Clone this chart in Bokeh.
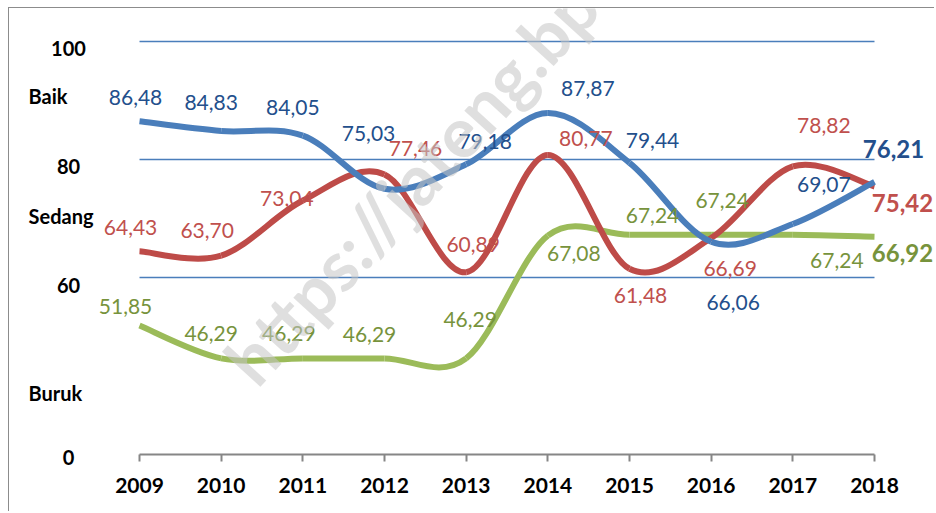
from bokeh.plotting import figure
from bokeh.models import Range1d, FixedTicker, ColumnDataSource, Label
from bokeh.core.properties import value
from bokeh.embed import file_html
from bokeh.resources import INLINE

# ---- data ----
years = [2009, 2010, 2011, 2012, 2013, 2014, 2015, 2016, 2017, 2018]
series_a = [86.48, 84.83, 84.05, 75.03, 79.18, 87.87, 79.44, 66.06, 69.07, 76.21]   # blue
series_b = [64.43, 63.70, 73.04, 77.46, 60.89, 80.77, 61.48, 66.69, 78.82, 75.42]   # red
series_c = [51.85, 46.29, 46.29, 46.29, 46.29, 67.08, 67.24, 67.24, 67.24, 66.92]   # green
grid_values = [100, 80, 60]
axis_base = 30
y_tick_values = [100, 80, 60, axis_base]
y_tick_labels = ["100", "80", "60", "0"]
band_labels = ["Baik", "Sedang", "Buruk"]
band_label_y = [90.8, 70.5, 40.5]

# ---- layout (label offsets in screen px, dy positive = down) ----
off_a = [(-4, -24), (-10, -28), (-10, -28), (-16, -55), (19, -23), (40, -25), (23, -22), (22, 61), (31, -39), (19, -33)]
off_b = [(-9, -24), (-14, -25), (-16, -2), (31, -26), (7, -28), (38, -16), (11, 27), (19, 30), (31, -41), (28, 16)]
off_c = [(-14, -19), (-10, -25), (-14, -25), (-15, -24), (4, -39), (26, 18), (23, -19), (11, -34), (44, 26), (28, 16)]
y_tick_dy = [7, 7, 8, 3]

LINE = {"a": "#4a7ebb", "b": "#be4b48", "c": "#9bbb59"}
TXT = {"a": "#234f8c", "b": "#c0504d", "c": "#77933c"}
FONT = "Lato"

p = figure(width=926, height=504, output_backend="svg", toolbar_location=None,
           x_range=Range1d(2007.408, 2018.747), y_range=Range1d(20.17, 105.59),
           y_axis_location=None, min_border_left=0, min_border_right=0,
           min_border_top=0, min_border_bottom=0)
p.styles = {"margin-left": "8px", "margin-top": "7px",
            "border-left": "1px solid #8c8c8c", "border-top": "1px solid #8c8c8c"}
p.xgrid.visible = False
p.ygrid.visible = False
p.outline_line_color = None
p.background_fill_color = "white"

ax = p.xaxis[0]
ax.fixed_location = axis_base
ax.ticker = FixedTicker(ticks=years)
ax.bounds = (years[0], years[-1])
ax.axis_line_color = "#868686"
ax.axis_line_width = 2
ax.major_tick_line_color = "#868686"
ax.major_tick_line_width = 2
ax.major_tick_in = 0
ax.major_tick_out = 7
ax.minor_tick_line_color = None
ax.major_label_text_font = FONT
ax.major_label_text_font_style = "bold"
ax.major_label_text_font_size = "21px"
ax.major_label_text_color = "black"
ax.major_label_standoff = 16

# gridlines
p.segment(x0=[years[0]] * 3, x1=[years[-1]] * 3, y0=grid_values, y1=grid_values,
          line_color="#4a7ebb", line_width=1.6)


def smooth_segments(xs, ys):
    n = len(xs)
    x0, y0, x1, y1, cx0, cy0, cx1, cy1 = [], [], [], [], [], [], [], []
    for i in range(n - 1):
        xp, yp = (xs[i - 1], ys[i - 1]) if i > 0 else (xs[i], ys[i])
        xn, yn = (xs[i + 2], ys[i + 2]) if i + 2 < n else (xs[i + 1], ys[i + 1])
        x0.append(xs[i]); y0.append(ys[i]); x1.append(xs[i + 1]); y1.append(ys[i + 1])
        cx0.append(xs[i] + (xs[i + 1] - xp) / 6.0)
        cy0.append(ys[i] + (ys[i + 1] - yp) / 6.0)
        cx1.append(xs[i + 1] - (xn - xs[i]) / 6.0)
        cy1.append(ys[i + 1] - (yn - ys[i]) / 6.0)
    return dict(x0=x0, y0=y0, x1=x1, y1=y1, cx0=cx0, cy0=cy0, cx1=cx1, cy1=cy1)


for key, vals in (("c", series_c), ("b", series_b), ("a", series_a)):
    src = ColumnDataSource(smooth_segments(years, vals))
    p.bezier(x0="x0", y0="y0", x1="x1", y1="y1", cx0="cx0", cy0="cy0", cx1="cx1", cy1="cy1",
             source=src, line_color=LINE[key], line_width=6, line_cap="butt")


def fmt(v):
    return f"{v:.2f}".replace(".", ",")


for key, vals, offs in (("a", series_a, off_a), ("b", series_b, off_b), ("c", series_c, off_c)):
    n = len(vals)
    src = ColumnDataSource(dict(x=years[:n - 1], y=vals[:n - 1], t=[fmt(v) for v in vals[:n - 1]],
                                dx=[o[0] for o in offs[:n - 1]], dy=[o[1] for o in offs[:n - 1]]))
    p.text(x="x", y="y", text="t", x_offset="dx", y_offset="dy", source=src,
           text_font=value(FONT), text_font_size="21px", text_color=TXT[key],
           text_align="center", text_baseline="middle")
    src2 = ColumnDataSource(dict(x=years[n - 1:], y=vals[n - 1:], t=[fmt(v) for v in vals[n - 1:]],
                                 dx=[o[0] for o in offs[n - 1:]], dy=[o[1] for o in offs[n - 1:]]))
    p.text(x="x", y="y", text="t", x_offset="dx", y_offset="dy", source=src2,
           text_font=value(FONT), text_font_size="24px", text_font_style="bold",
           text_color=TXT[key], text_align="center", text_baseline="middle")

# y value labels
p.text(x=[years[0]] * len(y_tick_values), y=y_tick_values, text=y_tick_labels,
       x_offset=-71, y_offset=y_tick_dy, text_font=value(FONT), text_font_size="20px",
       text_font_style="bold", text_color="black", text_align="center", text_baseline="middle")
# band labels
p.text(x=[years[0]] * len(band_labels), y=band_label_y, text=band_labels,
       x_offset=-111, y_offset=0, text_font=value(FONT), text_font_size="20px",
       text_font_style="bold", text_color="black", text_align="left", text_baseline="middle")

# watermark
p.add_layout(Label(x=2010.2, y=44.0, text="https://jateng.bps.go.id", angle=0.83,
                   text_font=FONT, text_font_size="70px", text_font_style="bold",
                   text_color="#c4c4c4", text_alpha=0.55, text_align="left",
                   text_baseline="alphabetic"))

open("out.html", "w").write(file_html(p, INLINE))
